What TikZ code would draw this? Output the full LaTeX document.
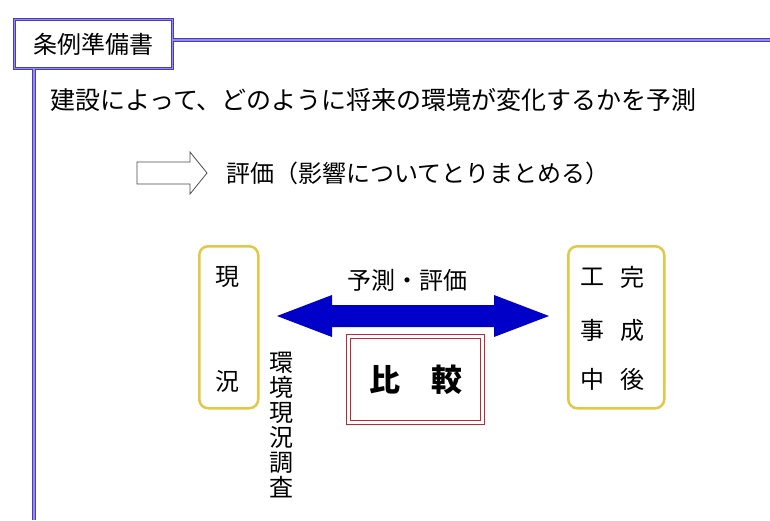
\documentclass[tikz,border=0pt]{standalone}
\usepackage{fontspec}
\setmainfont{Noto Sans CJK JP}
\definecolor{frameblue}{RGB}{70,60,190}
\definecolor{framelight}{RGB}{150,140,230}
\definecolor{gold}{RGB}{225,200,70}
\definecolor{arrowblue}{RGB}{0,0,200}
\definecolor{cmpred}{RGB}{190,40,50}
\tikzset{
  frameline/.style={draw=frameblue,line width=1pt,double=framelight,double distance=1.4pt},
  txt/.style={inner sep=0pt,font=\fontsize{24}{28}\selectfont},
  goldbox/.style={draw=gold,line width=2.5pt,rounded corners=9pt,fill=white},
}
\begin{document}
\begin{tikzpicture}[x=1pt,y=-1pt]
\useasboundingbox (0,0) rectangle (770,520);
\fill[white] (0,0) rectangle (770,520);
% frame lines
\coordinate (hr) at (770,40);
\coordinate (vb) at (34,520);
\node[frameline,fill=white,minimum width=158,minimum height=49,inner sep=0pt,anchor=north west,
  font=\fontsize{24}{28}\selectfont] (title) at (14,19) {条例準備書};
\draw[frameline] (title.east |- hr) -- (hr);
\draw[frameline] (vb |- title.south) -- (vb);
% first line
\node[txt,anchor=west,font=\fontsize{25}{28}\selectfont] (l1) at (50,100) {建設によって、どのように将来の環境が変化するかを予測};
% hollow arrow
\draw[draw=black!70,line width=0.8pt,fill=white] (137,162) -- (190,162) -- (190,152) -- (207,173)
  -- (190,194) -- (190,184) -- (137,184) -- cycle;
\coordinate (ha) at (207,173);
\node[txt,anchor=west] (l2) at (226,173) {評価（影響についてとりまとめる）};
% left box
\node[goldbox,minimum width=59,minimum height=162,anchor=north west] (lb) at (198,245) {};
\node[txt] (g1) at (227,277) {現};
\node[txt] (g2) at (227,381) {況};
% vertical text
\node[txt,align=center,anchor=north,font=\fontsize{24}{25}\selectfont] (vt) at (281,352) {環\\境\\現\\況\\調\\査};
% right box
\node[goldbox,minimum width=96,minimum height=162,anchor=north west] (rb) at (567,245) {};
\node[txt] (r1) at (592,277) {工};
\node[txt] (r2) at (592,330) {事};
\node[txt] (r3) at (592,379) {中};
\node[txt] (r4) at (632,277) {完};
\node[txt] (r5) at (632,330) {成};
\node[txt] (r6) at (632,379) {後};
% blue double arrow
\fill[arrowblue] (277,316) -- (332,295) -- (332,305) -- (494,305) -- (494,295) -- (549,316)
  -- (494,337) -- (494,327) -- (332,327) -- (332,337) -- cycle;
\coordinate (bl) at (277,316);
\coordinate (br) at (549,316);
\node[txt] (bal) at (407,280) {予測・評価};
% compare box
\node[draw=cmpred,line width=1pt,double=white,double distance=2.5pt,minimum width=134,minimum height=86,
  anchor=north west,inner sep=0pt,font=\fontsize{31}{36}\bfseries\selectfont] (cmp) at (348,336) {比　較};
\end{tikzpicture}
\end{document}
